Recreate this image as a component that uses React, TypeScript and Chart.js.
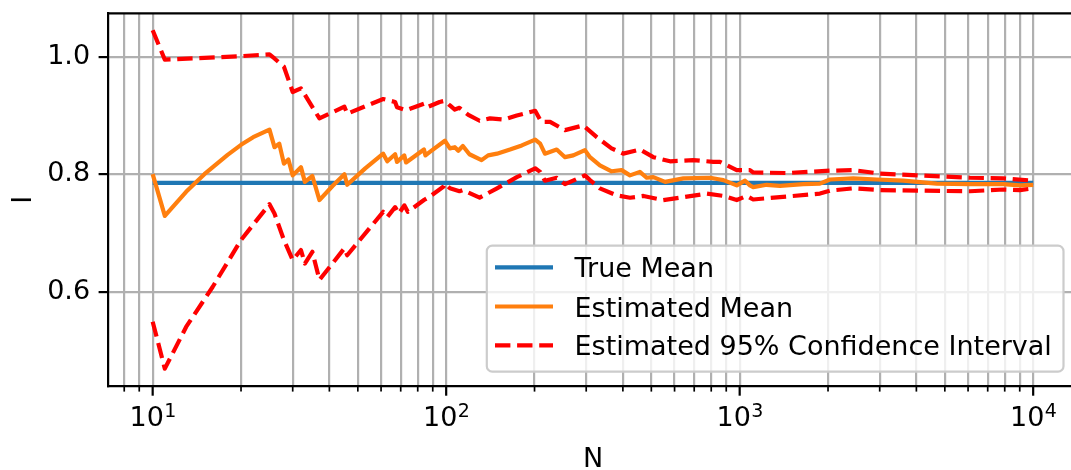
import React, { useEffect, useRef } from 'react';
import { Chart, registerables } from 'chart.js';

Chart.register(...registerables);

const FONT = '"DejaVu Sans", "Liberation Sans", sans-serif';

// ---------- data ----------
const trueN = [10, 10000];
const trueV = [0.7854, 0.7854];

const meanN = [10, 11, 13, 15, 18, 20, 22, 25, 26, 27, 28, 29, 30, 32, 33, 35, 37, 41, 45, 46, 53, 61, 63, 67, 68, 72, 73, 84, 85, 88, 99, 103, 107, 110, 114, 120, 132, 139, 149, 165, 181, 201, 209, 217, 238, 254, 271, 297, 309, 334, 366, 396, 423, 457, 482, 508, 557, 643, 793, 857, 880, 977, 1043, 1084, 1112, 1236, 1371, 1647, 1877, 2031, 2438, 2931, 3609, 4690, 6095, 7912, 9016, 10000];
const meanV = [0.800, 0.729, 0.770, 0.800, 0.833, 0.850, 0.863, 0.876, 0.846, 0.852, 0.818, 0.825, 0.798, 0.812, 0.787, 0.797, 0.756, 0.780, 0.800, 0.782, 0.810, 0.835, 0.822, 0.834, 0.821, 0.832, 0.820, 0.842, 0.832, 0.838, 0.857, 0.844, 0.846, 0.840, 0.848, 0.834, 0.824, 0.832, 0.835, 0.842, 0.849, 0.859, 0.852, 0.835, 0.842, 0.829, 0.832, 0.841, 0.829, 0.815, 0.805, 0.807, 0.798, 0.804, 0.794, 0.795, 0.787, 0.793, 0.794, 0.791, 0.790, 0.781, 0.789, 0.781, 0.778, 0.782, 0.780, 0.783, 0.784, 0.791, 0.793, 0.791, 0.789, 0.784, 0.783, 0.783, 0.781, 0.782];

const upperN = [10, 11, 15, 20, 25, 26, 28, 30, 32, 37, 45, 46, 61, 67, 68, 73, 84, 86, 95, 99, 103, 107, 111, 119, 130, 141, 157, 174, 201, 211, 226, 254, 293, 326, 366, 401, 457, 508, 579, 695, 813, 857, 977, 1084, 1112, 1446, 2031, 2438, 3006, 4113, 6095, 7912, 10000];
const upperV = [1.045, 0.995, 0.998, 1.001, 1.004, 0.997, 0.983, 0.940, 0.946, 0.895, 0.915, 0.903, 0.928, 0.923, 0.914, 0.909, 0.920, 0.914, 0.923, 0.925, 0.917, 0.910, 0.913, 0.901, 0.891, 0.895, 0.893, 0.900, 0.908, 0.889, 0.889, 0.875, 0.883, 0.863, 0.844, 0.835, 0.842, 0.829, 0.822, 0.824, 0.821, 0.821, 0.807, 0.807, 0.803, 0.802, 0.806, 0.807, 0.801, 0.798, 0.794, 0.793, 0.789];

const lowerN = [10, 11, 13, 16, 20, 25, 26, 28, 30, 32, 33, 35, 37, 45, 46, 61, 63, 67, 69, 72, 74, 84, 88, 98, 99, 103, 111, 114, 130, 149, 174, 201, 209, 217, 238, 254, 297, 309, 334, 381, 423, 470, 549, 643, 772, 880, 977, 1057, 1112, 1371, 1877, 2031, 2438, 3006, 4113, 6095, 7912, 9016, 10000];
const lowerV = [0.549, 0.469, 0.540, 0.608, 0.688, 0.749, 0.733, 0.688, 0.654, 0.671, 0.648, 0.668, 0.620, 0.674, 0.662, 0.736, 0.727, 0.744, 0.733, 0.747, 0.736, 0.756, 0.762, 0.779, 0.784, 0.776, 0.771, 0.773, 0.760, 0.776, 0.795, 0.810, 0.804, 0.789, 0.794, 0.783, 0.798, 0.790, 0.776, 0.764, 0.760, 0.763, 0.756, 0.761, 0.767, 0.763, 0.756, 0.763, 0.757, 0.761, 0.767, 0.772, 0.776, 0.773, 0.772, 0.771, 0.774, 0.773, 0.776];

const xMajorTicks = [10, 100, 1000, 10000];
const xMinorTicks = [8, 9, 20, 30, 40, 50, 60, 70, 80, 90, 200, 300, 400, 500, 600, 700, 800, 900, 2000, 3000, 4000, 5000, 6000, 7000, 8000, 9000];
const xTickBase = '10';
const xTickExps = ['1', '2', '3', '4'];
const yTicks = [0.6, 0.8, 1.0];
const yTickLabels = ['0.6', '0.8', '1.0'];
const legendLabels = ['True Mean', 'Estimated Mean', 'Estimated 95% Confidence Interval'];
const xTitle = 'N';
const yTitle = 'I';

const BLUE = '#1f77b4';
const ORANGE = '#ff7f0e';
const RED = '#ff0000';
const DASH = [15.4, 6.7];
const LW = 4.2;

const toXY = (xs: number[], ys: number[]) => xs.map((x, i) => ({ x, y: ys[i] }));

const decorPlugin = {
  id: 'decor',
  afterDraw(chart: any) {
    const ctx = chart.ctx as CanvasRenderingContext2D;
    const a = chart.chartArea;
    const xs = chart.scales.x;
    ctx.save();

    // top spine
    ctx.strokeStyle = '#000';
    ctx.lineWidth = 2.2;
    ctx.beginPath();
    ctx.moveTo(a.left - 1.1, a.top);
    ctx.lineTo(a.right + 2, a.top);
    ctx.stroke();

    // x tick marks
    xMajorTicks.forEach((v) => {
      const px = xs.getPixelForValue(v);
      ctx.lineWidth = 2.2;
      ctx.beginPath();
      ctx.moveTo(px, a.bottom);
      ctx.lineTo(px, a.bottom + 9.7);
      ctx.stroke();
    });
    xMinorTicks.forEach((v) => {
      const px = xs.getPixelForValue(v);
      ctx.lineWidth = 1.7;
      ctx.beginPath();
      ctx.moveTo(px, a.bottom);
      ctx.lineTo(px, a.bottom + 5.6);
      ctx.stroke();
    });

    // x tick labels 10^n
    ctx.fillStyle = '#000';
    ctx.textBaseline = 'alphabetic';
    ctx.textAlign = 'left';
    xMajorTicks.forEach((v, i) => {
      const px = xs.getPixelForValue(v);
      ctx.font = `27px ${FONT}`;
      const w1 = ctx.measureText(xTickBase).width;
      ctx.font = `19px ${FONT}`;
      const w2 = ctx.measureText(xTickExps[i]).width;
      const start = px - (w1 + w2) / 2;
      ctx.font = `27px ${FONT}`;
      ctx.fillText(xTickBase, start, 425.7);
      ctx.font = `19px ${FONT}`;
      ctx.fillText(xTickExps[i], start + w1 + 0.5, 416.5);
    });

    // axis titles
    ctx.font = `27px ${FONT}`;
    ctx.textAlign = 'center';
    ctx.fillText(xTitle, 593, 466.7);
    ctx.save();
    ctx.translate(31, (a.top + a.bottom) / 2);
    ctx.rotate(-Math.PI / 2);
    ctx.fillText(yTitle, 0, 0);
    ctx.restore();

    // legend
    const bx = 486.8, by = 245.7, bw = 1063.5 - 486.8, bh = 371.7 - 245.7;
    ctx.beginPath();
    (ctx as any).roundRect(bx, by, bw, bh, 5.5);
    ctx.fillStyle = 'rgba(255,255,255,0.8)';
    ctx.fill();
    ctx.strokeStyle = '#cccccc';
    ctx.lineWidth = 2.2;
    ctx.stroke();

    const rows = [267.3, 306.5, 345.3];
    const colors = [BLUE, ORANGE, RED];
    rows.forEach((ry, i) => {
      ctx.strokeStyle = colors[i];
      ctx.lineWidth = LW;
      ctx.lineCap = 'butt';
      ctx.setLineDash(i === 2 ? DASH : []);
      ctx.beginPath();
      ctx.moveTo(495, ry);
      ctx.lineTo(553, ry);
      ctx.stroke();
      ctx.setLineDash([]);
      ctx.fillStyle = '#000';
      ctx.font = `27px ${FONT}`;
      ctx.textAlign = 'left';
      ctx.textBaseline = 'alphabetic';
      ctx.fillText(legendLabels[i], 574.5, ry + 10);
    });

    ctx.restore();
  },
};

export default function App() {
  const canvasRef = useRef<HTMLCanvasElement | null>(null);

  useEffect(() => {
    if (!canvasRef.current) return;
    const lineBase = {
      pointRadius: 0,
      pointHoverRadius: 0,
      fill: false,
      tension: 0,
      borderWidth: LW,
      borderJoinStyle: 'round' as const,
      borderCapStyle: 'butt' as const,
    };
    const chart = new Chart(canvasRef.current, {
      type: 'line',
      data: {
        datasets: [
          { ...lineBase, label: legendLabels[0], data: toXY(trueN, trueV), borderColor: BLUE, order: 4 },
          { ...lineBase, label: legendLabels[1], data: toXY(meanN, meanV), borderColor: ORANGE, order: 3 },
          { ...lineBase, label: legendLabels[2], data: toXY(upperN, upperV), borderColor: RED, borderDash: DASH, order: 2 },
          { ...lineBase, label: 'lower', data: toXY(lowerN, lowerV), borderColor: RED, borderDash: DASH, order: 1 },
        ],
      },
      options: {
        responsive: false,
        animation: false,
        devicePixelRatio: 1,
        layout: { padding: { top: 13.3, right: 0, bottom: 0, left: 0 } },
        plugins: { legend: { display: false }, tooltip: { enabled: false }, title: { display: false } },
        events: [],
        scales: {
          x: {
            type: 'logarithmic',
            min: 7.06,
            max: 13455,
            afterBuildTicks: (s: any) => {
              s.ticks = [...xMinorTicks, ...xMajorTicks].sort((p, q) => p - q).map((v) => ({ value: v }));
            },
            afterFit: (s: any) => {
              s.height = 84;
              s.paddingLeft = 0;
              s.paddingRight = 0;
              s.paddingTop = 0;
              s.paddingBottom = 0;
            },
            ticks: { display: false },
            grid: { color: '#b0b0b0', lineWidth: 2.2, drawTicks: false },
            border: { display: true, color: '#000', width: 2.2 },
          },
          y: {
            type: 'linear',
            min: 0.4395,
            max: 1.0739,
            afterBuildTicks: (s: any) => {
              s.ticks = yTicks.map((v) => ({ value: v }));
            },
            afterFit: (s: any) => {
              s.width = 108.3;
              s.paddingTop = 0;
              s.paddingBottom = 0;
              s.paddingLeft = 0;
              s.paddingRight = 0;
            },
            ticks: {
              callback: (v: any) => yTickLabels[yTicks.indexOf(Number(v))] ?? '',
              font: { family: FONT, size: 27 },
              color: '#000',
              padding: 8.5,
            },
            grid: { color: '#b0b0b0', lineWidth: 2.2, drawTicks: true, tickColor: '#000', tickLength: 9.7, tickWidth: 2.2 },
            border: { display: true, color: '#000', width: 2.2 },
          },
        },
      },
      plugins: [decorPlugin],
    });
    return () => chart.destroy();
  }, []);

  return (
    <div style={{ position: 'fixed', left: 0, top: 0, width: 1071, height: 470, background: '#fff', overflow: 'hidden' }}>
      <canvas ref={canvasRef} width={1071} height={470} style={{ display: 'block', width: 1071, height: 470 }} />
    </div>
  );
}
